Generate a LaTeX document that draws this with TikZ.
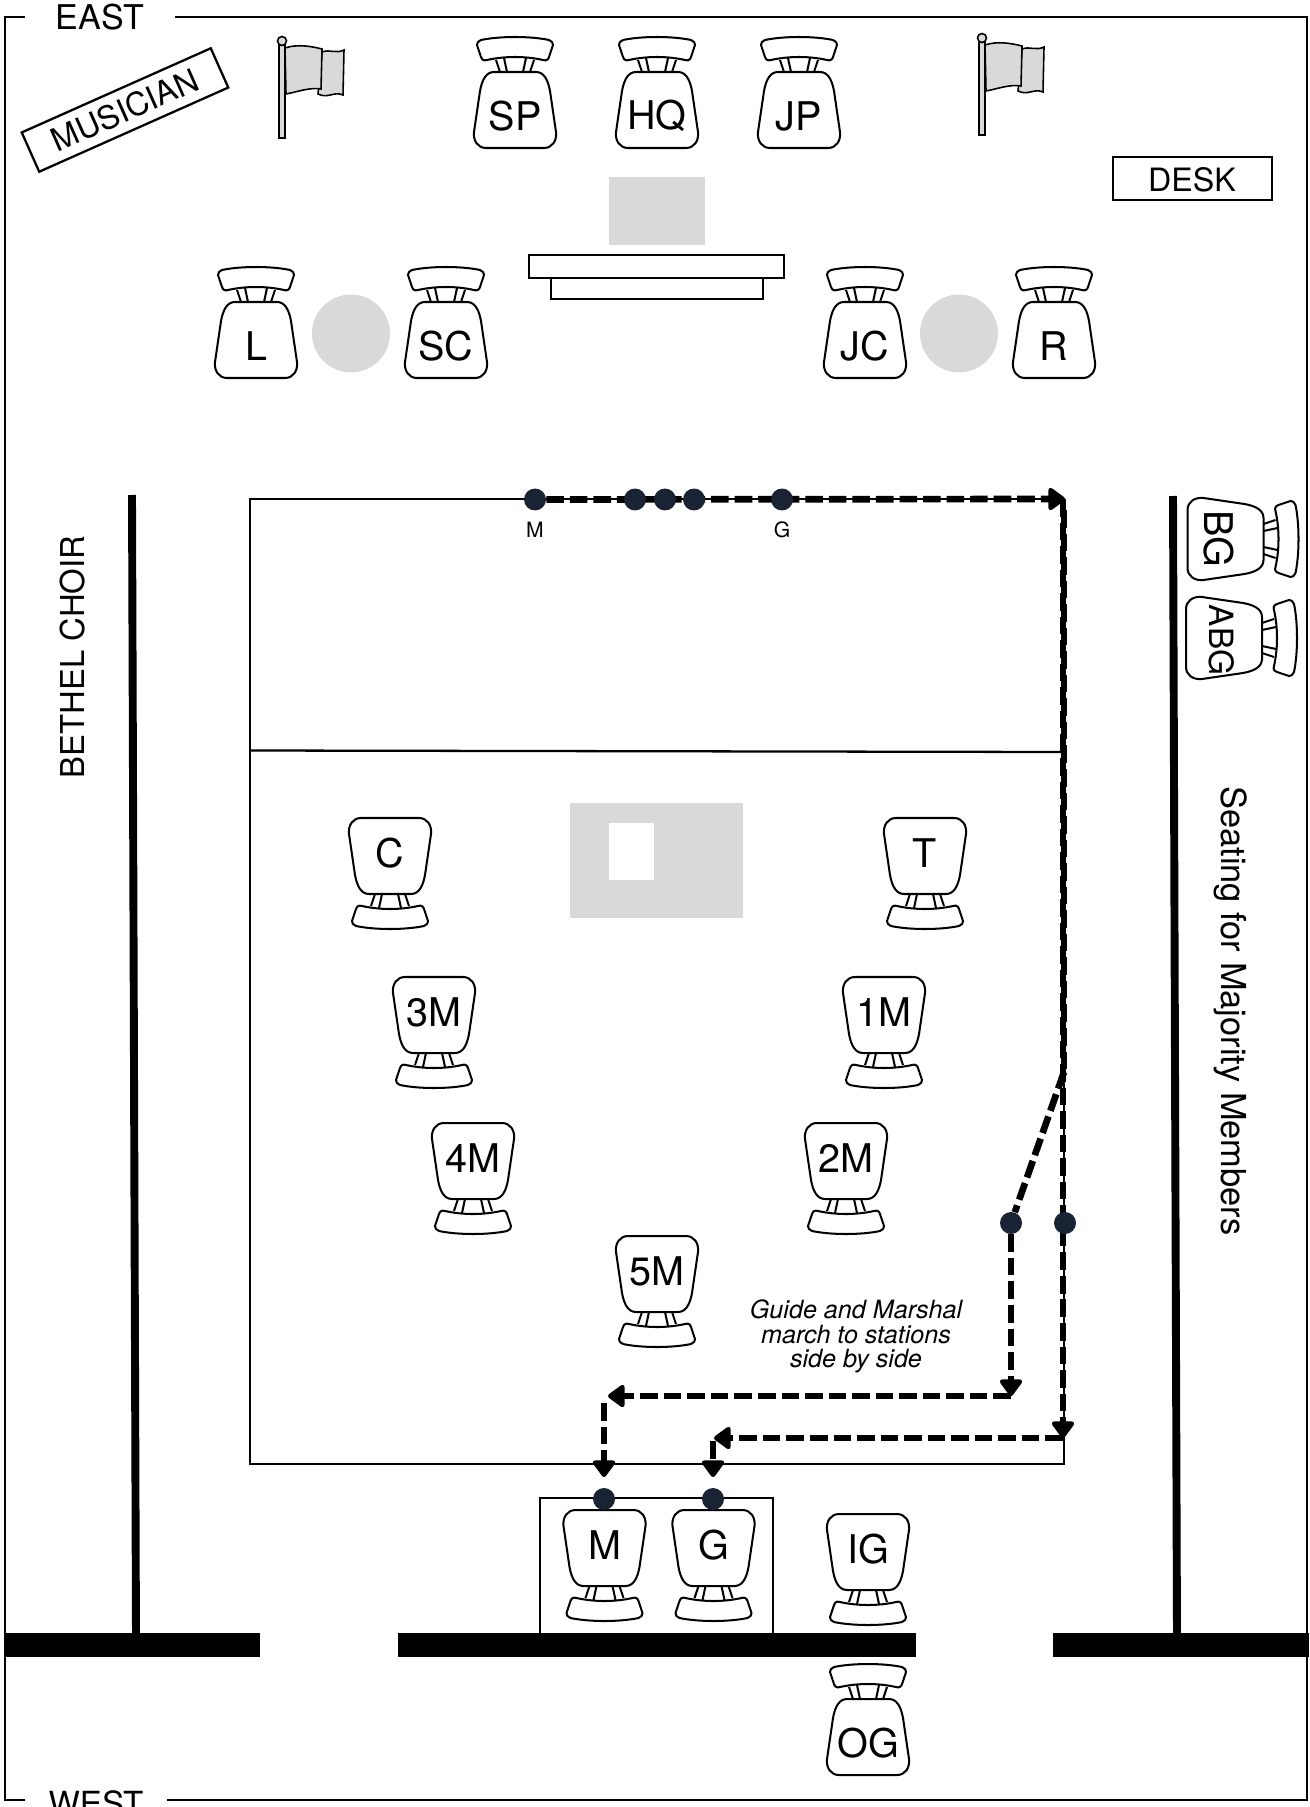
\documentclass[tikz,border=0pt]{standalone}
\usepackage{fontspec}
\setmainfont{TeX Gyre Heros}
\usetikzlibrary{arrows.meta,backgrounds,positioning}
\definecolor{navy}{HTML}{1A2333}

\begin{document}
\begin{tikzpicture}[
  x=0.02cm, y=-0.02cm,
  roomtext/.style={font=\fontsize{18.3}{20}\selectfont, inner sep=0pt},
  seatlabel/.style={font=\fontsize{22.5}{24}\selectfont, inner sep=0pt},
  smalllabel/.style={font=\fontsize{12}{13}\selectfont, inner sep=0pt},
  notelabel/.style={font=\fontsize{14.3}{13.8}\selectfont\itshape, align=center, inner sep=0pt},
  signbox/.style={roomtext, draw=black, line width=1.3pt, minimum height=0.86cm},
  frameline/.style={black, line width=1.2pt},
  plainline/.style={black, line width=1.3pt},
  wall/.style={black, line width=4.5pt},
  threshold/.style={fill=black},
  greyarea/.style={fill=black!15},
  station/.style={circle, fill=navy, minimum size=0.44cm, inner sep=0pt},
  march/.style={black, line width=3.8pt, dash pattern=on 10pt off 3.4pt},
  marchtip/.style={march, -{Triangle[round, length=10.5pt, width=14.5pt]}},
  chair/.pic={
    \draw[black, line width=1.15pt, line join=round, fill=white]
      (-21,-38) -- (21,-38) .. controls (29,-38) and (33,-30) .. (35,-19)
      -- (41,22) .. controls (42,31) and (37,38) .. (29,38)
      -- (-29,38) .. controls (-37,38) and (-42,31) .. (-41,22)
      -- (-35,-19) .. controls (-33,-30) and (-29,-38) .. (-21,-38) -- cycle;
    \draw[black, line width=1.15pt, line join=round, fill=white]
      (-34,-70) .. controls (-15,-74) and (15,-74) .. (34,-70)
      .. controls (37,-69) and (38,-67) .. (38,-65)
      -- (34,-53) .. controls (33,-50) and (31,-49) .. (28,-50)
      .. controls (10,-54) and (-10,-54) .. (-28,-50)
      .. controls (-31,-49) and (-33,-50) .. (-34,-53)
      -- (-38,-65) .. controls (-38,-67) and (-37,-69) .. (-34,-70) -- cycle;
    \draw[black, line width=1.15pt] (-19,-50) -- (-15,-38) (-11,-52) -- (-8,-38)
      (19,-50) -- (15,-38) (11,-52) -- (8,-38);
  },
  flag/.pic={
    \draw[black, line width=0.9pt, fill=black!15] (-3,4) rectangle (3,97);
    \draw[black, line width=0.9pt, fill=black!15] (0,0) circle (4.5);
    \draw[black, line width=0.9pt, fill=black!15]
      (40,11) .. controls (48,8) and (54,13) .. (62,9)
      -- (61,54) .. controls (52,50) and (46,58) .. (36,53) -- cycle;
    \draw[black, line width=0.9pt, fill=black!15]
      (3,7) .. controls (15,3) and (28,5) .. (40,8)
      -- (39,48) .. controls (28,46) and (15,51) .. (4,53) -- cycle;
  }
]

\useasboundingbox (0,0) rectangle (1310,1807);

% Outer frame with the two compass labels set into it.
\draw[frameline] (5,17) rectangle (1307,1800);
\node[roomtext, font=\fontsize{19.4}{20}\selectfont, fill=white, minimum width=3cm, minimum height=0.5cm] (east) at (100,17) {EAST};
\node[roomtext, fill=white, minimum width=2.84cm, minimum height=0.5cm, text height=0pt] (westgap) at (96,1800) {};
\node[roomtext, font=\fontsize{18.9}{20}\selectfont] (west) at (96,1803.5) {WEST};

% Signs.
\node[signbox, rotate=24, minimum width=4.14cm] (musician) at (125,110) {MUSICIAN};
\draw[black, line width=1.3pt] (1113,157) rectangle (1272,200);
\node[roomtext] (desk) at (1192,180) {DESK};

% Flags either side of the top row.
\pic at (282,41) {flag};
\pic at (982,38) {flag};

% Dais and the two round tables.
\fill[greyarea] (609,177) rectangle (705,245);
\draw[plainline] (529,255) rectangle (784,278);
\draw[plainline] (551,278) rectangle (763,299);
\fill[greyarea] (351,333.5) circle (39);
\fill[greyarea] (959,333.5) circle (39);

% Floor outline, altar.
\draw[plainline] (250,499) rectangle (1064,1464);
\draw[plainline] (250,750.5) -- (1063,752);
\fill[greyarea] (570,803) rectangle (743,918);
\fill[white] (609,823) rectangle (654,880);

% Walls and threshold bars.
\draw[wall] (132,495) -- (136,1640);
\draw[wall] (1173,496) -- (1177,1640);
\fill[threshold] (4,1633) rectangle (260,1657);
\fill[threshold] (398,1633) rectangle (916,1657);
\fill[threshold] (1053,1633) rectangle (1309,1657);
\draw[plainline] (540,1633) -- (540,1498) -- (773,1498) -- (773,1633);

\node[roomtext, font=\fontsize{18.7}{20}\selectfont, rotate=90] (choir) at (73,657) {BETHEL CHOIR};
\node[font=\fontsize{19.6}{20}\selectfont, inner sep=0pt, rotate=-90] (seating) at (1231,1011) {Seating for Majority Members};

% Chairs with the back to the east.
\foreach \name/\x/\y in {SP/515/110, HQ/657/110, JP/799/110,
    L/256/340, SC/446/340, JC/865/340, R/1054/340, OG/868/1737}
{
  \pic at (\x,\y) {chair};
  \node[seatlabel] (\name) at (\x,\y+6) {\name};
}

% Chairs with the back to the west.
\foreach \name/\x/\y in {C/390/856, T/925/856, 3M/434/1015, 1M/884/1015,
    4M/473/1161, 2M/846/1161, 5M/657/1274, M/604.5/1548, G/713.5/1548, IG/868/1552}
{
  \pic[rotate=180] at (\x,\y) {chair};
  \node[seatlabel] (\name) at (\x,\y-3) {\name};
}

% Two chairs side on against the right wall.
\pic[rotate=-90] at (1225.5,539) {chair};
\node[seatlabel, rotate=-90] (BG) at (1219,539) {BG};
\pic[rotate=-90] at (1224,638) {chair};
\node[seatlabel, font=\fontsize{19}{22}\selectfont, rotate=-90] (ABG) at (1222,640) {ABG};

% Stations.
\node[station] (startM) at (535,499.5) {};
\node[station] (officerA) at (635,499.5) {};
\node[station] (officerB) at (665,499.5) {};
\node[station] (officerC) at (694,499.5) {};
\node[station] (startG) at (782,499.5) {};
\node[station] (sideM) at (1011,1223) {};
\node[station] (sideG) at (1065,1223) {};
\node[station] (endM) at (604,1499) {};
\node[station] (endG) at (713,1499) {};
\node[smalllabel] (labelM) at (535,530) {M};
\node[smalllabel] (labelG) at (782,530) {G};

\coordinate (corner) at (1065,499);
\coordinate (cornerdown) at (1063,499);
\coordinate (forktop) at (1064,510);
\coordinate (fork) at (1064,1072);
\coordinate (turnM) at (1011,1396);
\coordinate (leftM) at (608,1396);
\coordinate (downM) at (604,1403);
\coordinate (tipM) at (604,1477);
\coordinate (turnG) at (1063,1438);
\coordinate (leftG) at (714,1438);
\coordinate (downG) at (713,1441);
\coordinate (tipG) at (713,1477);

% March routes, under the station dots.
\begin{scope}[on background layer]
  \draw[marchtip] (startM) -- (corner);
  \draw[marchtip] (cornerdown) -- (turnG);
  \draw[march] (forktop) -- (fork);
  \draw[march] (fork) -- (sideM);
  \draw[marchtip] (sideM) -- (turnM);
  \draw[marchtip] (turnM) -- (leftM);
  \draw[marchtip] (downM) -- (tipM);
  \draw[marchtip] (turnG) -- (leftG);
  \draw[marchtip] (downG) -- (tipG);
\end{scope}

\node[notelabel] (note) at (856,1336.5) {Guide and Marshal\\march to stations\\side by side};

\end{tikzpicture}
\end{document}
